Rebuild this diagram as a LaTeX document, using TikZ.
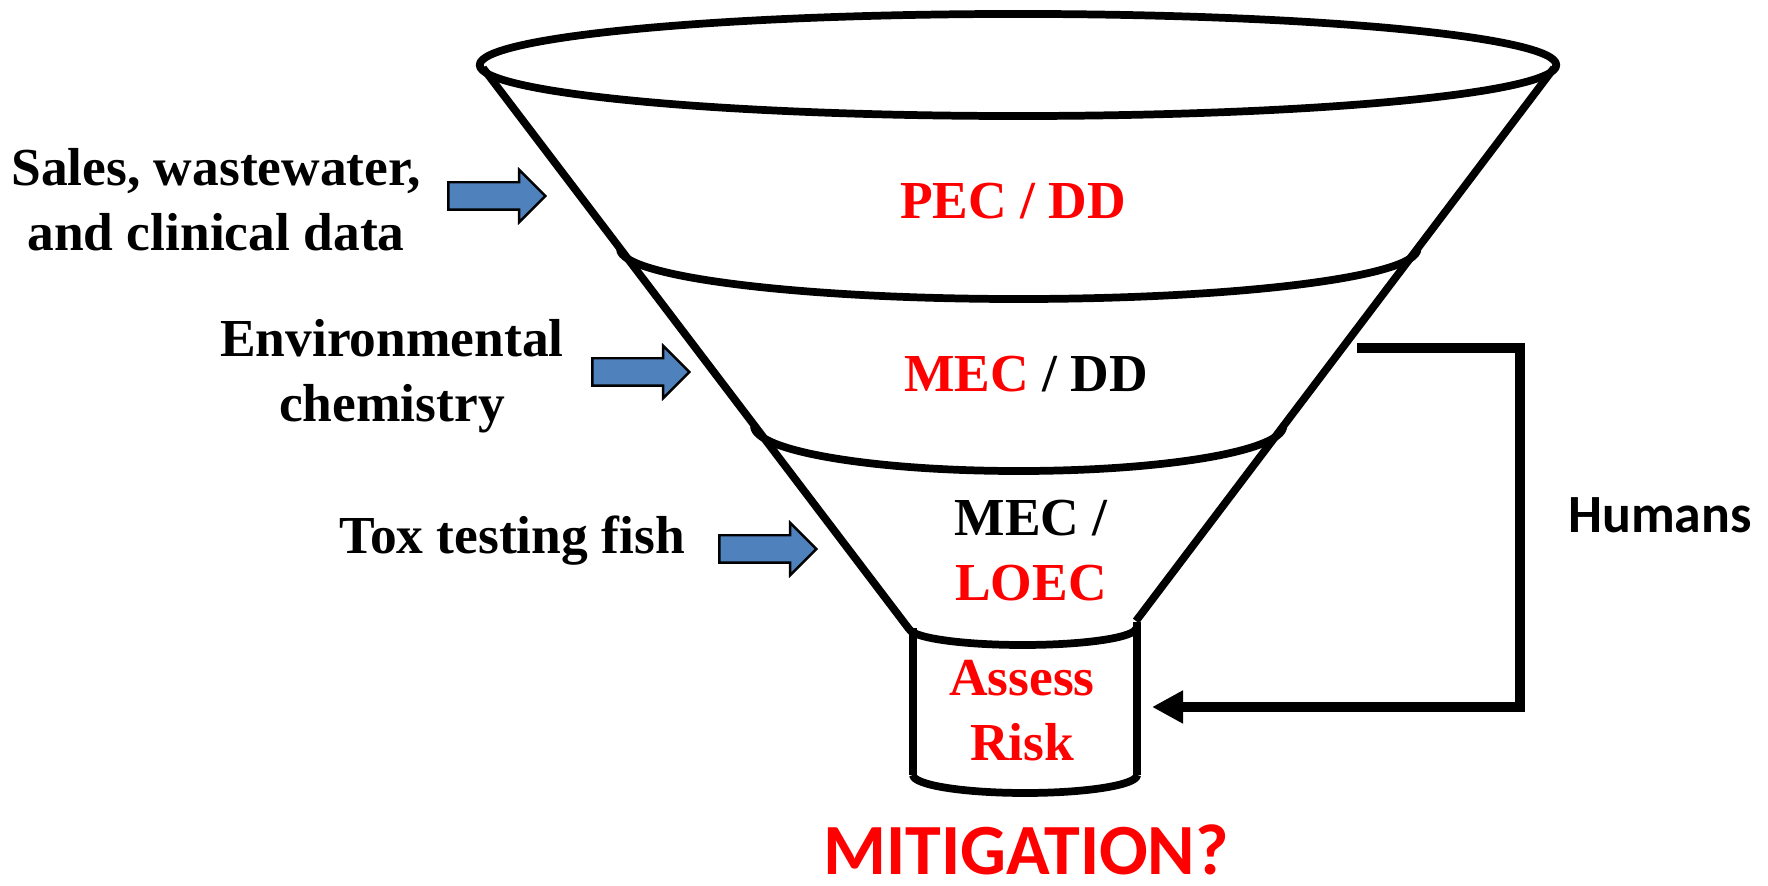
\documentclass[tikz,border=0pt]{standalone}
\usepackage{fontspec}
\setmainfont{Liberation Serif}
\newfontfamily\calibrifont{Carlito}
\usetikzlibrary{arrows.meta,shapes.arrows}
\definecolor{arrowblue}{HTML}{4F81BD}

\begin{document}
\begin{tikzpicture}[x=0.01cm, y=-0.01cm,
        funnel/.style={line width=2.2pt, line join=round},
        label/.style={font=\fontsize{15.2}{18.5}\selectfont\bfseries, align=center},
        inarrow/.style={single arrow, draw, line width=0.7pt, fill=arrowblue,
            minimum height=0.97cm, inner xsep=0pt, inner ysep=0.125cm,
            single arrow head extend=0.125cm}]
        \useasboundingbox (0,0) rectangle (1768,886);
        % funnel
        \draw[funnel] (1018,65) ellipse [x radius=5.38cm, y radius=0.51cm];
        \draw[funnel] (483,68) -- (909,629);
        \draw[funnel] (1554,68) -- (1136,621);
        \draw[funnel] (620,249) arc[start angle=180, end angle=360,
            x radius=3.985cm, y radius=0.5cm];
        \draw[funnel] (754,426) arc[start angle=180, end angle=360,
            x radius=2.645cm, y radius=0.45cm];
        % cylinder at the bottom
        \draw[funnel] (909,628) arc[start angle=180, end angle=360,
            x radius=1.135cm, y radius=0.17cm];
        \draw[funnel] (913,628) -- (913,775);
        \draw[funnel] (1137,622) -- (1137,775);
        \draw[funnel] (913,775) arc[start angle=180, end angle=360,
            x radius=1.12cm, y radius=0.18cm];
        % inputs
        \node[label] (sales) at (216,200) {Sales, wastewater,\\and clinical data};
        \node[label] (envchem) at (392,376) {Environmental\\chemistry};
        \node[label] (tox) at (512,541) {Tox testing fish};
        \node[inarrow] (arrsales) at (490,196) {};
        \node[inarrow] (arrenv) at (634,372) {};
        \node[inarrow] (arrtox) at (761,549) {};
        % levels
        \node[label, text=red] (pec) at (1013,201) {PEC / DD};
        \node[label] (mecdd) at (1026,374) {\textcolor{red}{MEC} / DD};
        \node[label] (mecloec) at (1031,551) {MEC /\\\textcolor{red}{LOEC}};
        \node[label, text=red] (assess) at (1022,711) {Assess\\Risk};
        \node[font=\calibrifont\fontsize{20.5}{24}\selectfont\bfseries, text=red,
            inner sep=0pt] (mitig) at (1026,850) {MITIGATION?};
        % humans loop
        \node[font=\calibrifont\fontsize{15.3}{18}\selectfont\bfseries]
            (humans) at (1660,515) {Humans};
        \coordinate (hum) at (1357,348);
        \coordinate (hcorner) at (1520,348);
        \coordinate (risk) at (1152,707);
        \draw[line width=2.85pt, -{Triangle[length=0.31cm, width=0.31cm]}]
            (hum) -- (hcorner) |- (risk);
    \end{tikzpicture}
\end{document}
